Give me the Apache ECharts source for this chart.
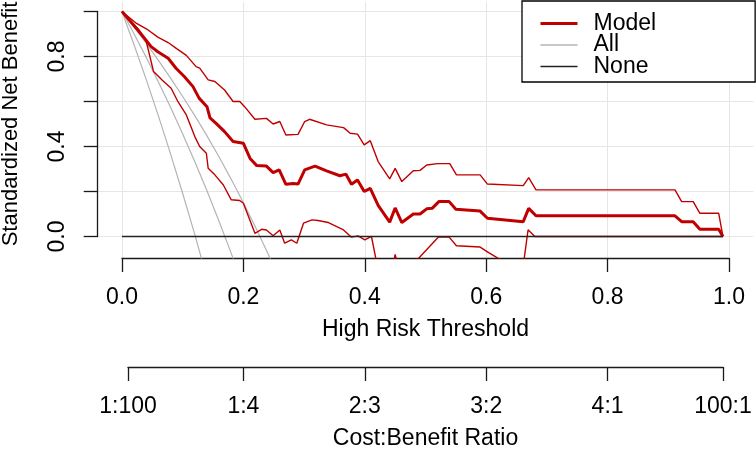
<!DOCTYPE html>
<html><head><meta charset="utf-8">
<script src="https://cdn.jsdelivr.net/npm/echarts@6/dist/echarts.min.js"></script>
<style>html,body{margin:0;padding:0;background:#fff}#c{width:756px;height:450px}</style>
</head><body><div id="c"></div>
<script>
// ---------- data ----------
const xTickStep = 0.2;
const yTickStep = 0.2;
const yLabelValues = [0, 0.4, 0.8];
const costBenefitPos = [1/101, 0.2, 0.4, 0.6, 0.8, 100/101];
const costBenefitLabels = ['1:100', '1:4', '2:3', '3:2', '4:1', '100:1'];

const modelX = [0,0.026,0.037,0.048,0.059,0.076,0.089,0.103,0.117,0.127,0.14,0.145,0.155,0.169,0.183,0.2,0.211,0.222,0.238,0.249,0.259,0.27,0.282,0.29,0.301,0.318,0.337,0.359,0.369,0.378,0.388,0.399,0.409,0.422,0.441,0.45,0.461,0.48,0.491,0.502,0.511,0.522,0.539,0.55,0.59,0.602,0.661,0.67,0.682,0.911,0.922,0.941,0.952,0.983,0.99];
const modelY = [1.0,0.918,0.881,0.844,0.821,0.792,0.748,0.71,0.666,0.615,0.577,0.527,0.503,0.466,0.422,0.414,0.347,0.315,0.313,0.284,0.296,0.232,0.236,0.233,0.296,0.313,0.292,0.27,0.277,0.232,0.251,0.2,0.214,0.138,0.064,0.127,0.062,0.1,0.1,0.123,0.125,0.155,0.155,0.121,0.113,0.081,0.066,0.125,0.092,0.092,0.066,0.066,0.032,0.032,0.0];

const upperX = [0,0.024,0.043,0.059,0.076,0.09,0.106,0.122,0.128,0.142,0.153,0.169,0.183,0.194,0.202,0.219,0.238,0.249,0.26,0.27,0.29,0.301,0.309,0.337,0.365,0.376,0.388,0.399,0.409,0.422,0.441,0.45,0.461,0.48,0.491,0.502,0.52,0.54,0.551,0.59,0.602,0.661,0.67,0.682,0.911,0.922,0.941,0.952,0.983,0.99];
const upperY = [1.0,0.947,0.918,0.886,0.862,0.835,0.805,0.755,0.748,0.696,0.689,0.651,0.6,0.6,0.577,0.521,0.525,0.5,0.511,0.451,0.454,0.511,0.521,0.496,0.484,0.459,0.455,0.407,0.426,0.333,0.256,0.303,0.244,0.292,0.294,0.318,0.324,0.324,0.274,0.274,0.233,0.226,0.262,0.207,0.207,0.155,0.155,0.103,0.103,0.0];

const lowerX = [0,0.028,0.04,0.046,0.052,0.066,0.081,0.092,0.106,0.12,0.128,0.139,0.142,0.153,0.167,0.18,0.194,0.2,0.219,0.23,0.238,0.249,0.26,0.268,0.279,0.288,0.299,0.313,0.323,0.34,0.365,0.378,0.389,0.4,0.411,0.422,0.441,0.45,0.461,0.48,0.491,0.521,0.539,0.551,0.59,0.604,0.634,0.661,0.669,0.68,0.99];
const lowerY = [1.0,0.918,0.866,0.8,0.733,0.696,0.659,0.6,0.54,0.444,0.4,0.37,0.303,0.274,0.229,0.163,0.16,0.148,0.014,0.032,0.029,0.003,0.029,-0.03,-0.015,-0.03,0.059,0.074,0.071,0.062,0.029,-0.003,0.003,-0.015,0.0,-0.15,-0.2,-0.08,-0.2,-0.12,-0.09,-0.003,-0.003,-0.041,-0.047,-0.072,-0.12,-0.13,0.03,0.0,0.0];

const allX = [0,0.02,0.04,0.06,0.08,0.10,0.12,0.14,0.16,0.18,0.20,0.22,0.24,0.26];
const allLowY = [1.0,0.851,0.697,0.536,0.367,0.191,0.008,-0.185,null,null,null,null,null,null];
const allMidY = [1.0,0.90,0.796,0.687,0.574,0.456,0.332,0.203,0.067,-0.075,-0.224,null,null,null];
const allHighY = [1.0,0.931,0.858,0.783,0.704,0.622,0.537,0.447,0.353,0.254,0.150,0.041,-0.073,-0.194];

const noneX = [0, 0.99];
const noneY = [0, 0];

// ---------- chart ----------
const FONT = 'Liberation Sans, Arial, sans-serif';
const FS = 23;
const RED = '#c00000';
const GRAY = '#b4b4b4';
const NONE_C = '#222';
const AX = '#1a1a1a';
const GRID = '#e6e6e6';
const pairs = (xs, ys) => xs.map((x, i) => [x, ys[i]]).filter(p => p[1] !== null);

const chart = echarts.init(document.getElementById('c'), null, {renderer: 'canvas'});

function line(name, xs, ys, color, width, z) {
  return {
    type: 'line', name, xAxisIndex: 0, yAxisIndex: 0,
    data: pairs(xs, ys), symbol: 'none', showSymbol: false, clip: true,
    lineStyle: {color, width}, itemStyle: {color}, z, animation: false, silent: true
  };
}

chart.setOption({
  animation: false,
  backgroundColor: '#fff',
  textStyle: {fontFamily: FONT},
  grid: [
    {left: 97.7, top: 2, width: 655.6, height: 256, containLabel: false, outerBoundsMode: 'none'},
    {left: 122, top: 2, width: 607, height: 256, containLabel: false, outerBoundsMode: 'none'},
    {left: 97.7, top: 11.5, width: 655.6, height: 225, containLabel: false, outerBoundsMode: 'none'},
    {left: 128, top: 300, width: 595, height: 67, containLabel: false, outerBoundsMode: 'none'}
  ],
  xAxis: [
    {gridIndex: 0, type: 'value', min: -0.04, max: 1.04, show: false},
    {gridIndex: 1, type: 'value', min: 0, max: 1, interval: xTickStep, position: 'bottom',
      axisLine: {show: true, lineStyle: {color: AX, width: 1.3}},
      axisTick: {show: true, length: 14, lineStyle: {color: AX, width: 1.3}},
      axisLabel: {fontSize: FS, color: '#000', margin: 28, fontFamily: FONT, formatter: v => v.toFixed(1)},
      splitLine: {show: true, lineStyle: {color: GRID, width: 1}},
      name: 'High Risk Threshold', nameLocation: 'middle', nameGap: 60,
      nameTextStyle: {fontSize: FS, color: '#000', fontFamily: FONT}},
    {gridIndex: 2, type: 'value', min: 0, max: 1, show: false},
    {gridIndex: 3, type: 'value', min: costBenefitPos[0], max: costBenefitPos[costBenefitPos.length - 1], position: 'bottom',
      axisLine: {show: true, lineStyle: {color: AX, width: 1.3}},
      axisTick: {show: true, length: 14, customValues: costBenefitPos, lineStyle: {color: AX, width: 1.3}},
      axisLabel: {fontSize: FS, color: '#000', margin: 28, fontFamily: FONT, customValues: costBenefitPos,
        formatter: v => {
          let best = 0;
          costBenefitPos.forEach((p, i) => { if (Math.abs(p - v) < Math.abs(costBenefitPos[best] - v)) best = i; });
          return costBenefitLabels[best];
        }},
      splitLine: {show: false},
      name: 'Cost:Benefit Ratio', nameLocation: 'middle', nameGap: 60,
      nameTextStyle: {fontSize: FS, color: '#000', fontFamily: FONT}}
  ],
  yAxis: [
    {gridIndex: 0, type: 'value', min: -0.0956, max: 1.0422, show: false},
    {gridIndex: 1, type: 'value', min: 0, max: 1, show: false},
    {gridIndex: 2, type: 'value', min: 0, max: 1, interval: yTickStep, position: 'left',
      axisLine: {show: true, lineStyle: {color: AX, width: 1.3}},
      axisTick: {show: true, length: 14, lineStyle: {color: AX, width: 1.3}},
      axisLabel: {fontSize: FS, color: '#000', margin: 29, rotate: 90, fontFamily: FONT,
        customValues: yLabelValues, formatter: v => v.toFixed(1)},
      splitLine: {show: true, lineStyle: {color: GRID, width: 1}},
      name: 'Standardized Net Benefit', nameLocation: 'middle', nameGap: 76,
      nameTextStyle: {fontSize: 22, color: '#000', fontFamily: FONT}},
    {gridIndex: 3, type: 'value', min: 0, max: 1, show: false}
  ],
  legend: {
    left: 522, top: 1, orient: 'vertical',
    data: [
      {name: 'Model', lineStyle: {color: RED, width: 3}},
      {name: 'All', lineStyle: {color: GRAY, width: 1.4}},
      {name: 'None', lineStyle: {color: NONE_C, width: 1.6}}
    ],
    borderColor: '#000', borderWidth: 1.3, backgroundColor: '#fff',
    padding: [11, 99, 4, 17], itemGap: -1.5, itemWidth: 37, itemHeight: 21,
    itemStyle: {opacity: 0},
    textStyle: {fontSize: FS, lineHeight: 21, color: '#000', fontFamily: FONT, padding: [0, 0, 0, 11]},
    selectedMode: false
  },
  series: [
    line('Model', modelX, modelY, RED, 3, 5),
    line('All', allX, allLowY, GRAY, 1.2, 3),
    line('All', allX, allMidY, GRAY, 1.2, 3),
    line('All', allX, allHighY, GRAY, 1.2, 3),
    line('Model', upperX, upperY, RED, 1.4, 4),
    line('Model', lowerX, lowerY, RED, 1.4, 4),
    line('None', noneX, noneY, NONE_C, 1.6, 6)
  ]
});
</script>
</body></html>
